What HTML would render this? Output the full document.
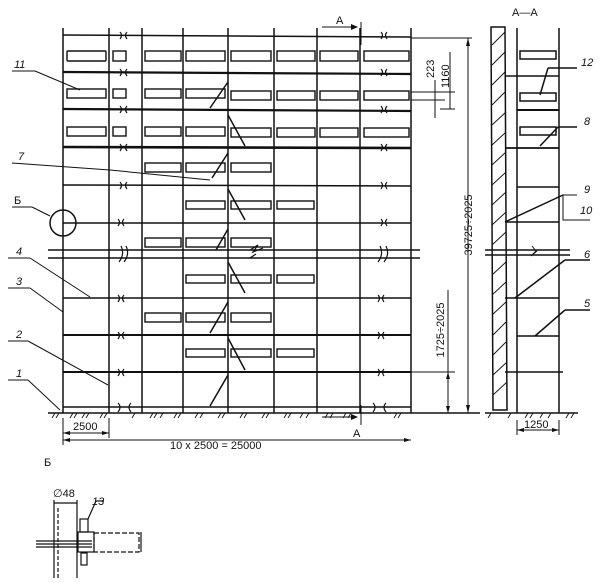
<!DOCTYPE html>
<html><head><meta charset="utf-8"><style>
html,body{margin:0;padding:0;background:#fff;width:605px;height:583px;overflow:hidden}
svg{display:block}
text{font-family:"Liberation Sans",sans-serif;fill:#111}
.it{font-style:italic}
</style></head><body>
<svg width="605" height="583" viewBox="0 0 605 583" xmlns="http://www.w3.org/2000/svg">
<g stroke="#111" fill="none" stroke-width="1.5">
<line x1="63" y1="28" x2="63" y2="413"/>
<line x1="109" y1="28" x2="109" y2="413"/>
<line x1="142" y1="28" x2="142" y2="413"/>
<line x1="183" y1="28" x2="183" y2="413"/>
<line x1="228" y1="28" x2="228" y2="413"/>
<line x1="274" y1="28" x2="274" y2="413"/>
<line x1="317" y1="28" x2="317" y2="413"/>
<line x1="360" y1="28" x2="360" y2="413"/>
<line x1="411" y1="28" x2="411" y2="413"/>
<line x1="63" y1="35" x2="411" y2="37"/>
<line x1="63" y1="72" x2="411" y2="74" stroke-width="2.2"/>
<line x1="63" y1="109" x2="411" y2="111" stroke-width="2.2"/>
<line x1="63" y1="147" x2="411" y2="148" stroke-width="2.6"/>
<line x1="63" y1="185" x2="411" y2="186"/>
<line x1="63" y1="223" x2="411" y2="223"/>
<line x1="48" y1="250" x2="420" y2="250"/>
<line x1="48" y1="258" x2="420" y2="258"/>
<line x1="63" y1="298" x2="411" y2="298"/>
<line x1="63" y1="335" x2="411" y2="335" stroke-width="2"/>
<line x1="63" y1="372" x2="411" y2="372" stroke-width="2"/>
<line x1="63" y1="407" x2="411" y2="407"/>
<line x1="48" y1="413" x2="480" y2="413"/>
<g stroke-width="1.2">
<path d="M120 32 q3 3 0 7 M127 32 q-3 3 0 7"/>
<path d="M120 69 q3 3 0 7 M127 69 q-3 3 0 7"/>
<path d="M120 106 q3 3 0 7 M127 106 q-3 3 0 7"/>
<path d="M120 144 q3 3 0 7 M127 144 q-3 3 0 7"/>
<path d="M120 182 q3 3 0 7 M127 182 q-3 3 0 7"/>
<path d="M118 219 q3 3 0 7 M124 219 q-3 3 0 7"/>
<path d="M121 246 q4 8 -2 16 M126 246 q4 8 -2 16"/>
<path d="M118 295 q3 3 0 7 M124 295 q-3 3 0 7"/>
<path d="M118 332 q3 3 0 7 M124 332 q-3 3 0 7"/>
<path d="M118 369 q3 3 0 7 M124 369 q-3 3 0 7"/>
<path d="M118 403 q4 4 0 9 M131 403 q-4 4 0 9"/>
<path d="M381 32 q3 3 0 7 M387 32 q-3 3 0 7"/>
<path d="M381 69 q3 3 0 7 M387 69 q-3 3 0 7"/>
<path d="M381 106 q3 3 0 7 M387 106 q-3 3 0 7"/>
<path d="M381 144 q3 3 0 7 M387 144 q-3 3 0 7"/>
<path d="M381 182 q3 3 0 7 M387 182 q-3 3 0 7"/>
<path d="M381 219 q3 3 0 7 M387 219 q-3 3 0 7"/>
<path d="M380 246 q4 8 -2 16 M386 246 q4 8 -2 16"/>
<path d="M378 295 q3 3 0 7 M384 295 q-3 3 0 7"/>
<path d="M378 332 q3 3 0 7 M384 332 q-3 3 0 7"/>
<path d="M378 369 q3 3 0 7 M384 369 q-3 3 0 7"/>
<path d="M373 403 q4 4 0 9 M386 403 q-4 4 0 9"/>
<path d="M250 250 l8 -5 l-5 7 l10 -4 M250 258 l6 -4"/>
</g>
<g stroke-width="1.4">
<rect x="67" y="51" width="39" height="10" rx="1"/><rect x="113" y="51" width="13" height="10"/><rect x="145" y="51" width="36" height="10"/><rect x="186" y="51" width="39" height="10"/><rect x="231" y="51" width="40" height="10"/><rect x="277" y="51" width="38" height="10"/><rect x="320" y="51" width="38" height="10"/><rect x="364" y="51" width="45" height="10"/>
<rect x="67" y="89" width="39" height="9"/><rect x="113" y="89" width="13" height="9"/><rect x="145" y="89" width="36" height="9"/><rect x="186" y="89" width="39" height="9"/><rect x="231" y="91" width="40" height="9"/><rect x="277" y="91" width="38" height="9"/><rect x="320" y="91" width="38" height="9"/><rect x="364" y="91" width="45" height="9"/>
<rect x="67" y="127" width="39" height="9"/><rect x="113" y="127" width="13" height="9"/><rect x="145" y="127" width="36" height="9"/><rect x="186" y="127" width="39" height="9"/><rect x="231" y="128" width="40" height="9"/><rect x="277" y="128" width="38" height="9"/><rect x="320" y="128" width="38" height="9"/><rect x="364" y="128" width="45" height="9"/>
<rect x="145" y="163" width="36" height="9"/><rect x="186" y="163" width="39" height="9"/><rect x="231" y="163" width="40" height="9"/>
<rect x="186" y="201" width="39" height="8"/><rect x="231" y="201" width="40" height="8"/><rect x="277" y="201" width="37" height="8"/>
<rect x="145" y="238" width="36" height="9"/><rect x="186" y="238" width="39" height="9"/><rect x="231" y="238" width="40" height="9"/>
<rect x="186" y="275" width="39" height="8"/><rect x="231" y="275" width="40" height="8"/><rect x="277" y="275" width="37" height="8"/>
<rect x="145" y="313" width="36" height="9"/><rect x="186" y="313" width="39" height="9"/><rect x="231" y="313" width="40" height="9"/>
<rect x="186" y="349" width="39" height="8"/><rect x="231" y="349" width="40" height="8"/><rect x="277" y="349" width="37" height="8"/>
</g>
<path d="M228 82 L210 108 M228 115 L245 146 M228 153 L212 178 M228 189 L245 220 M228 229 L216 250 M228 262 L245 293 M228 302 L210 333 M228 338 L245 370 M228 375 L210 406"/>
<g stroke-width="1">
<line x1="12" y1="71" x2="35" y2="71"/><line x1="35" y1="71" x2="80" y2="90"/>
<line x1="12" y1="163" x2="110" y2="170"/><line x1="110" y1="170" x2="210" y2="180"/>
<line x1="12" y1="207" x2="32" y2="207"/><line x1="32" y1="207" x2="50" y2="216"/>
<line x1="8" y1="258" x2="30" y2="258"/><line x1="30" y1="258" x2="90" y2="297"/>
<line x1="8" y1="288" x2="30" y2="288"/><line x1="30" y1="288" x2="63" y2="312"/>
<line x1="8" y1="341" x2="28" y2="341"/><line x1="28" y1="341" x2="108" y2="385"/>
<line x1="8" y1="380" x2="28" y2="380"/><line x1="28" y1="380" x2="60" y2="410"/>
</g>
<circle cx="63" cy="223" r="13"/>
<path d="M491 27 L505 27 L507 410 L493 410 Z"/>
<g stroke-width="0.9">
<path d="M492 45 L505 32 M492 65 L505 52 M492 85 L505 72 M492 105 L505 92 M492 125 L506 112 M492 145 L506 132 M492 165 L506 152 M492 185 L506 172 M492 205 L506 192 M492 225 L506 212 M492 245 L506 232 M492 275 L506 262 M492 295 L506 282 M492 315 L506 302 M493 335 L506 322 M493 355 L506 342 M493 375 L507 362 M493 395 L507 382"/>
</g>
<line x1="517" y1="28" x2="517" y2="413"/>
<line x1="559" y1="28" x2="559" y2="413"/>
<line x1="505" y1="76" x2="559" y2="76"/>
<line x1="517" y1="110" x2="559" y2="110" stroke-width="2"/>
<line x1="505" y1="148" x2="559" y2="148" stroke-width="1.8"/>
<line x1="517" y1="187" x2="559" y2="187"/>
<line x1="505" y1="222" x2="559" y2="222"/>
<line x1="485" y1="250" x2="570" y2="250"/><line x1="485" y1="255" x2="570" y2="255"/>
<path d="M532 246 l4 5 l-5 5 l6 -5" stroke-width="1"/>
<line x1="505" y1="298" x2="559" y2="298"/>
<line x1="517" y1="336" x2="559" y2="336"/>
<line x1="505" y1="372" x2="563" y2="372"/>
<line x1="485" y1="413" x2="578" y2="413"/>
<rect x="520" y="51" width="36" height="8"/>
<rect x="520" y="93" width="36" height="8"/>
<rect x="520" y="127" width="36" height="8"/>
<line x1="548" y1="68" x2="577" y2="68"/><line x1="548" y1="68" x2="540" y2="95"/>
<line x1="558" y1="127" x2="577" y2="127"/><line x1="558" y1="127" x2="540" y2="146"/>
<path d="M577 195 L563 195 L563 220 L590 220" stroke-width="1"/>
<line x1="563" y1="195" x2="505" y2="222"/>
<line x1="565" y1="260" x2="590" y2="260"/><line x1="565" y1="260" x2="515" y2="298"/>
<line x1="565" y1="310" x2="590" y2="310"/><line x1="565" y1="310" x2="535" y2="336"/>
<g stroke-width="1">
<line x1="411" y1="38" x2="472" y2="38"/>
<line x1="468" y1="38" x2="468" y2="413"/>
<line x1="415" y1="413" x2="472" y2="413"/>
<line x1="411" y1="372" x2="455" y2="372"/>
<line x1="448" y1="290" x2="448" y2="413"/>
<line x1="411" y1="92" x2="455" y2="92"/><line x1="411" y1="100" x2="445" y2="100"/><line x1="440" y1="109" x2="455" y2="109"/>
<line x1="435" y1="80" x2="435" y2="118"/><line x1="450" y1="52" x2="450" y2="109"/>
<line x1="63" y1="418" x2="63" y2="445"/><line x1="109" y1="418" x2="109" y2="438"/>
<line x1="63" y1="433" x2="109" y2="433"/>
<line x1="63" y1="440" x2="411" y2="440"/>
<line x1="517" y1="420" x2="517" y2="435"/><line x1="559" y1="420" x2="559" y2="435"/>
<line x1="517" y1="430" x2="559" y2="430"/>
<line x1="322" y1="27" x2="356" y2="27"/><line x1="361" y1="22" x2="361" y2="45"/>
<line x1="322" y1="417" x2="356" y2="417"/><line x1="361" y1="405" x2="361" y2="425"/>
</g>
<g fill="#111" stroke="none">
<path d="M468 38 l-2 8 l4 0z M468 413 l-2 -8 l4 0z M448 372 l-2 7 l4 0z M448 413 l-2 -7 l4 0z M63 433 l7 -2 l0 4z M109 433 l-7 -2 l0 4z M63 440 l7 -2 l0 4z M411 440 l-7 -2 l0 4z M517 430 l7 -2 l0 4z M559 430 l-7 -2 l0 4z M358 27 l-7 -3 l0 6z M358 417 l-7 -3 l0 6z"/>
</g>
<g stroke-width="0.9">
<path d="M52 418 l3 -5 M56 418 l3 -5 M70 418 l3 -5 M74 418 l3 -5 M82 418 l3 -5 M86 418 l3 -5 M100 418 l3 -5 M104 418 l3 -5 M132 418 l3 -5 M150 418 l3 -5 M154 418 l3 -5 M160 418 l3 -5 M174 418 l3 -5 M178 418 l3 -5 M195 418 l3 -5 M200 418 l3 -5 M218 418 l3 -5 M222 418 l3 -5 M240 418 l3 -5 M244 418 l3 -5 M262 418 l3 -5 M266 418 l3 -5 M284 418 l3 -5 M288 418 l3 -5 M300 418 l3 -5 M306 418 l3 -5 M325 418 l3 -5 M330 418 l3 -5 M343 418 l3 -5 M348 418 l3 -5 M394 418 l3 -5 M398 418 l3 -5 M488 418 l3 -5 M508 418 l3 -5 M525 418 l3 -5 M530 418 l3 -5 M540 418 l3 -5 M548 418 l3 -5 M566 418 l3 -5 M571 418 l3 -5"/>
</g>
<g stroke-width="1.2">
<line x1="54" y1="500" x2="54" y2="578"/><line x1="77" y1="500" x2="77" y2="578"/>
<line x1="54" y1="503" x2="77" y2="503"/>
<line x1="58" y1="508" x2="58" y2="578" stroke-dasharray="4 2"/>
<rect x="80" y="519" width="8" height="13"/>
<rect x="78" y="532" width="16" height="20"/>
<rect x="94" y="533" width="45" height="19" stroke-dasharray="5 2"/>
<line x1="36" y1="544" x2="92" y2="544"/><line x1="36" y1="541" x2="92" y2="541"/><line x1="36" y1="547" x2="92" y2="547"/>
<rect x="81" y="553" width="6" height="12"/>
<line x1="88" y1="519" x2="96" y2="501"/><line x1="96" y1="501" x2="104" y2="501"/>
<line x1="141" y1="532" x2="141" y2="552"/>
</g>
</g>
<g font-size="11">
<text x="14" y="68" class="it">11</text>
<text x="18" y="160" class="it">7</text>
<text x="14" y="204">Б</text>
<text x="16" y="255" class="it">4</text>
<text x="16" y="285" class="it">3</text>
<text x="16" y="338" class="it">2</text>
<text x="16" y="377" class="it">1</text>
<text x="336" y="24">А</text>
<text x="353" y="437">А</text>
<text x="512" y="16">А—А</text>
<text x="581" y="66" class="it">12</text>
<text x="584" y="125" class="it">8</text>
<text x="584" y="193" class="it">9</text>
<text x="580" y="214" class="it">10</text>
<text x="584" y="258" class="it">6</text>
<text x="584" y="307" class="it">5</text>
<text x="73" y="430">2500</text>
<text x="170" y="449">10 x 2500 = 25000</text>
<text x="524" y="428">1250</text>
<text x="44" y="466">Б</text>
<text x="53" y="497">∅48</text>
<text x="92" y="505" class="it">13</text>
<text transform="translate(472 225) rotate(-90)" text-anchor="middle">39725÷2025</text>
<text transform="translate(444 330) rotate(-90)" text-anchor="middle">1725÷2025</text>
<text transform="translate(434 78) rotate(-90)">223</text>
<text transform="translate(449 88) rotate(-90)">1160</text>
</g>
</svg>
</body></html>
